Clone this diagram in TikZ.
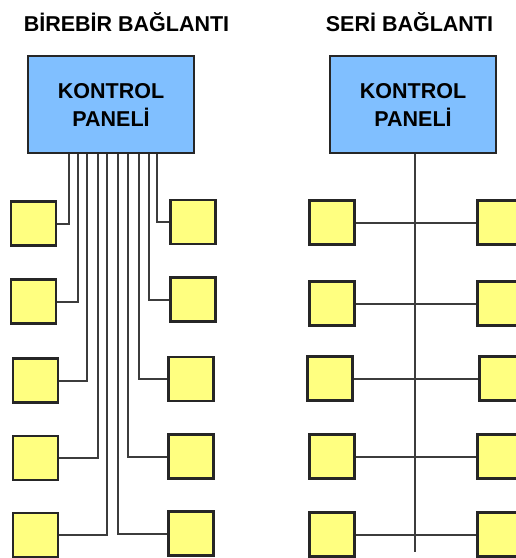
\documentclass[tikz,border=0pt]{standalone}
\usepackage{fontspec}
\setmainfont{Liberation Sans}
\definecolor{panelblue}{HTML}{80BFFF}
\definecolor{devyellow}{HTML}{FFFF80}
\definecolor{edge}{HTML}{262626}
\definecolor{wire}{HTML}{3C3C3C}
\begin{document}
\begin{tikzpicture}[x=1pt,y=-1pt,
  title/.style={font=\fontsize{21.5}{24}\selectfont\bfseries, inner sep=0pt},
  panel/.style={draw=edge, line width=2.2pt, fill=panelblue, minimum width=166pt, minimum height=97pt,
     font=\fontsize{21.5}{28}\selectfont\bfseries, align=center, inner sep=0pt},
  dev/.style={draw=edge, line width=2.2pt, fill=devyellow, minimum width=45pt, minimum height=44pt, inner sep=0pt},
  cable/.style={draw=wire, line width=2pt}]
\useasboundingbox (0,0) rectangle (516,558);
\fill[white] (0,0) rectangle (516,558);
\clip (0,0) rectangle (516,558);

% titles
\node[title] (t1) at (126.5,22) {BİREBİR BAĞLANTI};
\node[title] (t2) at (409.5,22) {SERİ BAĞLANTI};

% ---------------- left: one-to-one ----------------
\node[panel] (P1) at (111,104.5) {KONTROL\\PANELİ};
\node[dev] (L1) at (33.5,223.5) {};
\node[dev] (L2) at (33.5,301.5) {};
\node[dev] (L3) at (35.5,380.5) {};
\node[dev] (L4) at (35.5,458) {};
\node[dev] (L5) at (35.5,535) {};
\node[dev] (R1) at (193,222) {};
\node[dev] (R2) at (193,299.5) {};
\node[dev] (R3) at (191,379) {};
\node[dev] (R4) at (191,456.5) {};
\node[dev] (R5) at (191,533.5) {};

\coordinate (w1) at (69,154);
\coordinate (w2) at (78,154);
\coordinate (w3) at (87,154);
\coordinate (w4) at (98,154);
\coordinate (w5) at (107,154);
\coordinate (w6) at (118,154);
\coordinate (w7) at (128,154);
\coordinate (w8) at (139,154);
\coordinate (w9) at (149,154);
\coordinate (w10) at (157,154);

\draw[cable] (w1) |- (L1.east);
\draw[cable] (w2) |- (L2.east);
\draw[cable] (w3) |- (L3.east);
\draw[cable] (w4) |- (L4.east);
\draw[cable] (w5) |- (L5.east);
\draw[cable] (w6) |- (R5.west);
\draw[cable] (w7) |- (R4.west);
\draw[cable] (w8) |- (R3.west);
\draw[cable] (w9) |- (R2.west);
\draw[cable] (w10) |- (R1.west);

% ---------------- right: serial ----------------
\node[panel] (P2) at (413,104.5) {KONTROL\\PANELİ};
\coordinate (busend) at (415,552);
\draw[cable] (P2.south -| busend) -- (busend);

\node[dev] (SL1) at (332,222.5) {};
\node[dev] (SL2) at (332,303.5) {};
\node[dev] (SL3) at (330,378.5) {};
\node[dev] (SL4) at (332,456.5) {};
\node[dev] (SL5) at (332,534.5) {};
\node[dev] (SR1) at (500,222.5) {};
\node[dev] (SR2) at (500,303.5) {};
\node[dev] (SR3) at (502,378.5) {};
\node[dev] (SR4) at (500,456.5) {};
\node[dev] (SR5) at (500,534.5) {};

\draw[cable] (SL1.east) -- (SR1.west);
\draw[cable] (SL2.east) -- (SR2.west);
\draw[cable] (SL3.east) -- (SR3.west);
\draw[cable] (SL4.east) -- (SR4.west);
\draw[cable] (SL5.east) -- (SR5.west);
\end{tikzpicture}
\end{document}
